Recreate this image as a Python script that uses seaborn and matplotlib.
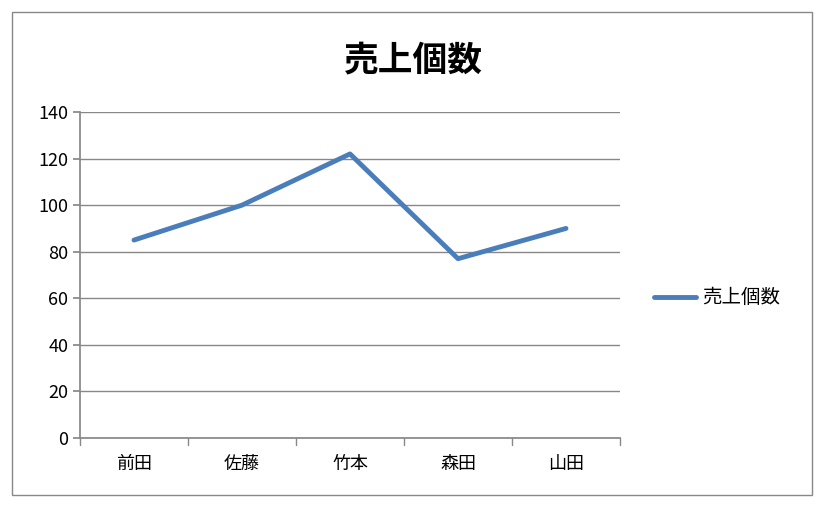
import matplotlib
matplotlib.use("Agg")
import matplotlib.pyplot as plt
import seaborn as sns
import pandas as pd
from matplotlib.patches import Rectangle

names = ["前田", "佐藤", "竹本", "森田", "山田"]
sales = [85, 100, 122, 77, 90]
yticks = [0, 20, 40, 60, 80, 100, 120, 140]
series_name = "売上個数"

sns.set_theme(style="white")
plt.rcParams['font.family'] = ['Noto Sans CJK JP', 'DejaVu Sans']

df = pd.DataFrame({"name": names, "val": sales, "s": series_name})
fig = plt.figure(figsize=(8.29, 5.18), dpi=100)
fig.patches.append(Rectangle((12/829, 1-495/518), 800/829, 483/518, transform=fig.transFigure,
                             fill=False, edgecolor="#888888", lw=1))
ax = fig.add_axes([80/829, 1-438/518, 540/829, 326/518])
sns.lineplot(data=df, x="name", y="val", hue="s", palette=["#4a7ebb"], lw=3.5, ax=ax, sort=False)
ax.set_xlim(-0.5, 4.5)
ax.set_ylim(0, 140)
ax.set_yticks(yticks)
ax.yaxis.grid(True, color="#888888", lw=1)
ax.set_axisbelow(True)
for s in ["top", "right"]:
    ax.spines[s].set_visible(False)
ax.spines["left"].set_color("#888888")
ax.spines["bottom"].set_color("#888888")
ax.set_xticks(range(len(names)))
ax.set_xticklabels(names, fontsize=13, color="black")
ax.tick_params(axis="x", length=0, pad=12)
ax.tick_params(axis="y", labelsize=13, labelcolor="black", left=True, length=5, color="#888888")
for xb in [i - 0.5 for i in range(len(names) + 1)]:
    ax.plot([xb, xb], [0, -0.02], transform=ax.get_xaxis_transform(), color="#888888", lw=1, clip_on=False)
ax.set_xlabel("")
ax.set_ylabel("")
fig.text(413/829, 1-60/518, "売上個数", ha="center", va="center", fontsize=25, fontweight="bold", color="black")
leg = ax.legend(loc="center left", bbox_to_anchor=(1.03, 0.43), frameon=False, fontsize=14,
          handlelength=2.2, handletextpad=0.3)
for t in leg.get_texts():
    t.set_color("black")
fig.savefig("out.png", dpi=100)
